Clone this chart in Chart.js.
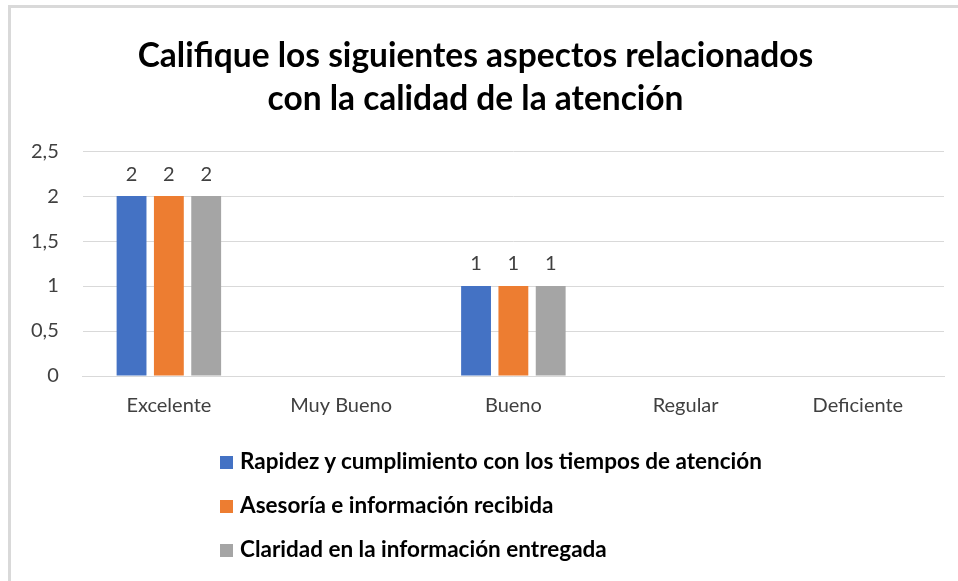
<!DOCTYPE html>
<html>
<head>
<meta charset="utf-8">
<script src="https://cdn.jsdelivr.net/npm/chart.js@4.4.0/dist/chart.umd.min.js"></script>
<style>
  html, body { margin: 0; padding: 0; background: #fff; }
  #wrap { position: relative; width: 958px; height: 581px; overflow: hidden; }
  #frame { position: absolute; left: 8px; top: 5px; width: 960px; height: 600px;
           border-left: 3px solid #d9d9d9; border-top: 3px solid #d9d9d9; box-sizing: border-box; }
  canvas { position: absolute; left: 0; top: 0; }
  #legend { position: absolute; left: 220px; top: 449px; font-family: Lato, "Open Sans", sans-serif;
            font-weight: bold; font-size: 22.5px; color: #000; }
  #legend div { height: 44px; line-height: 24px; white-space: nowrap; }
  #legend span.box { display: inline-block; width: 13px; height: 13px; margin-right: 7px; vertical-align: 0px; }
</style>
</head>
<body>
<div id="wrap">
  <div id="frame"></div>
  <canvas id="chart" width="958" height="581"></canvas>
  <div id="legend"></div>
</div>
<script>
// datos del gráfico
const categories = ['Excelente', 'Muy Bueno', 'Bueno', 'Regular', 'Deficiente'];
const seriesNames = [
    'Rapidez y cumplimiento con los tiempos de atención',
    'Asesoría e información recibida',
    'Claridad en la información entregada'
];
const rapidez = [2, 0, 1, 0, 0];
const asesoria = [2, 0, 1, 0, 0];
const claridad = [2, 0, 1, 0, 0];
const yTicks = [0, 0.5, 1, 1.5, 2, 2.5];
const colors = ['#4472C4', '#ED7D31', '#A5A5A5'];

const FONT = 'Lato, "Open Sans", sans-serif';

// etiquetas de valor encima de las barras
const valueLabels = {
    id: 'valueLabels',
    afterDatasetsDraw(chart) {
        const ctx = chart.ctx;
        ctx.save();
        ctx.font = '20px ' + FONT;
        ctx.fillStyle = '#404040';
        ctx.textAlign = 'center';
        ctx.textBaseline = 'bottom';
        chart.data.datasets.forEach((ds, i) => {
            const meta = chart.getDatasetMeta(i);
            meta.data.forEach((bar, j) => {
                if (ds.data[j] > 0) {
                    ctx.fillText(String(ds.data[j]), bar.x, bar.y - 12);
                }
            });
        });
        ctx.restore();
    }
};

const ctx = document.getElementById('chart').getContext('2d');
const chart = new Chart(ctx, {
    type: 'bar',
    data: {
        labels: categories,
        datasets: [rapidez, asesoria, claridad].map((d, i) => ({
            label: seriesNames[i],
            data: d,
            backgroundColor: colors[i],
            categoryPercentage: 0.65,
            barPercentage: 0.8
        }))
    },
    options: {
        responsive: false,
        animation: false,
        layout: { padding: { left: 7, right: 14, top: 34, bottom: 153 } },
        plugins: {
            legend: { display: false },
            tooltip: { enabled: false },
            title: {
                display: true,
                text: ['Califique los siguientes aspectos relacionados', 'con la calidad de la atención'],
                color: '#000',
                font: { family: FONT, size: 33.5, weight: 'bold', lineHeight: 1.3 },
                padding: { top: 0, bottom: 30 }
            }
        },
        scales: {
            x: {
                grid: { display: false },
                border: { color: '#d9d9d9' },
                ticks: { color: '#404040', font: { family: FONT, size: 20 }, padding: 10 }
            },
            y: {
                min: 0,
                max: 2.5,
                afterBuildTicks: axis => { axis.ticks = yTicks.map(v => ({ value: v })); },
                grid: { color: '#d9d9d9', drawTicks: false },
                border: { display: false },
                ticks: {
                    color: '#404040',
                    font: { family: FONT, size: 20 },
                    padding: 24,
                    callback: v => String(v).replace('.', ',')
                }
            }
        }
    },
    plugins: [valueLabels]
});

// leyenda vertical
const legend = document.getElementById('legend');
seriesNames.forEach((name, i) => {
    const row = document.createElement('div');
    const box = document.createElement('span');
    box.className = 'box';
    box.style.background = colors[i];
    row.appendChild(box);
    row.appendChild(document.createTextNode(name));
    legend.appendChild(row);
});
</script>
</body>
</html>
